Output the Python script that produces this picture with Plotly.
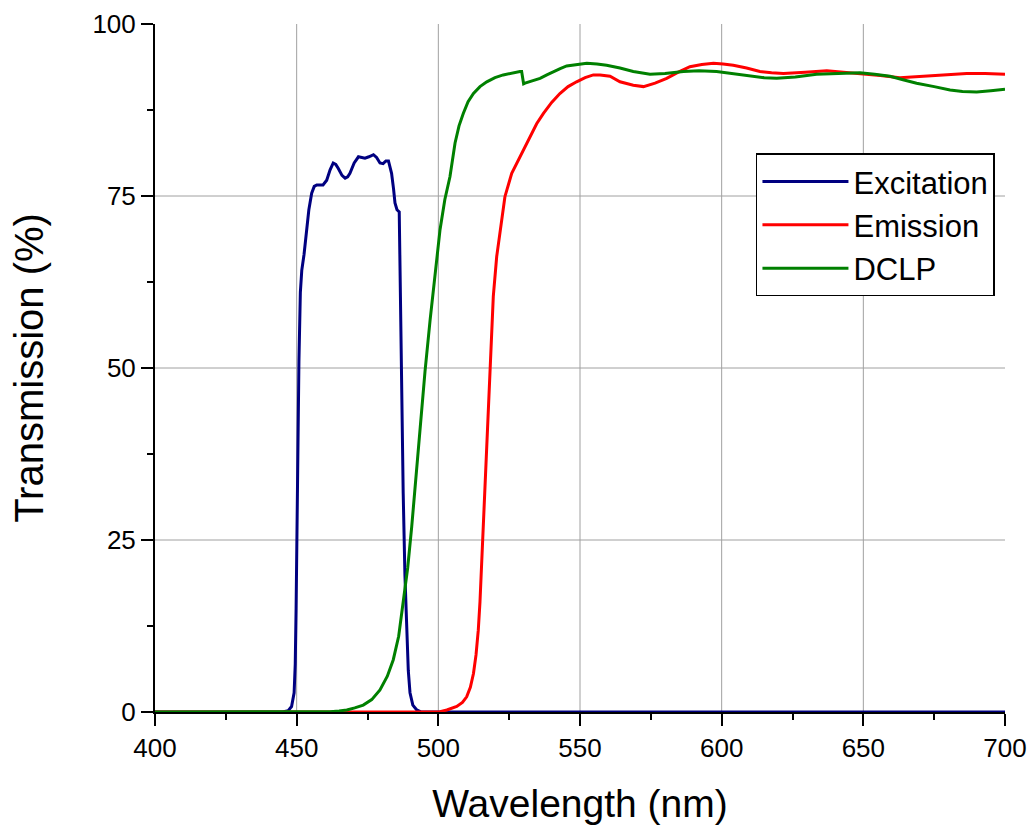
import plotly.graph_objects as go

# ---- data ----
exc_wl = [400, 445, 447, 448.2, 449.1, 449.5, 449.8, 450.2, 450.8, 451.3, 451.8, 452.6,
          453.5, 454.3, 455.3, 456.2, 457.1, 459.3, 460.6, 461.8, 462.9, 463.8, 464.7,
          466.0, 467.1, 468.0, 468.8, 470.3, 471.8, 474.1, 475.5, 477.1, 478.2, 479.4,
          480.5, 481.5, 482.4, 483.5, 484.2, 484.7, 485.4, 486.2, 486.5, 487.0, 487.6,
          488.2, 488.8, 489.4, 490.0, 491.0, 492.4, 494.0, 700]
exc_t = [0, 0, 0.2, 0.8, 2.8, 7, 15, 31.8, 51, 61, 64.2, 66.5,
         69.6, 73, 75.4, 76.4, 76.6, 76.6, 77.3, 78.8, 79.8, 79.6, 79.0,
         78.0, 77.6, 77.8, 78.3, 79.8, 80.7, 80.5, 80.7, 81.0, 80.6, 79.8,
         79.7, 80.1, 80.1, 78.3, 76.0, 74.0, 73.0, 72.7, 64, 48, 31.8,
         20, 12.4, 6, 2.8, 1.0, 0.3, 0, 0]

em_wl = [400, 500.6, 503, 506.5, 508.5, 510, 511.3, 512.4, 513.3, 514.1, 514.7, 515.3,
         516.2, 517.3, 518.2, 519.4, 520.6, 521.8, 523.5, 525.9, 528.8, 532.4, 534.7,
         537.1, 540, 542.9, 545.8, 548.8, 551.8, 554.7, 557.1, 560.6, 564.1, 568.8,
         572.4, 576.5, 580.6, 584.7, 588.8, 593, 597.1, 600.5, 604.1, 608.8, 613.5,
         617.6, 621.8, 629.5, 637.1, 643, 648.8, 656, 662.9, 667.6, 672.4, 679.5,
         686.5, 693, 700]
em_t = [0, 0.05, 0.3, 0.8, 1.4, 2.2, 3.6, 5.6, 8.3, 11.9, 16, 21.6,
        31.3, 41.0, 49.9, 60.4, 66.2, 70.1, 74.9, 78.3, 80.7, 83.6, 85.5,
        87.0, 88.6, 89.9, 90.9, 91.6, 92.2, 92.6, 92.6, 92.4, 91.6, 91.1,
        90.9, 91.4, 92.1, 93.0, 93.8, 94.1, 94.3, 94.2, 94.0, 93.6, 93.1,
        92.9, 92.8, 93.0, 93.2, 93.0, 92.8, 92.5, 92.2, 92.3, 92.4, 92.6,
        92.8, 92.8, 92.7]

dclp_wl = [400, 455, 461.8, 465, 467.7, 470.5, 473.5, 476.5, 479.4, 482, 484.1, 486,
           487.6, 489.2, 490.6, 492, 493.5, 495.3, 497.1, 498.8, 500.6, 502.3, 504.1,
           505.9, 507.3, 508.8, 510.5, 512.4, 514.7, 517.1, 520, 522.9, 526, 528.8,
           529.4, 530.1, 530.6, 533, 535.9, 538.3, 540.6, 543, 545.3, 549, 552.4, 556,
           559.4, 564.1, 568.8, 574.7, 580, 586.5, 592, 598.2, 604, 610, 615, 619.4,
           626, 633.5, 641, 648.8, 654, 659.4, 664, 668.8, 675, 680.6, 685, 690, 695, 700]
dclp_t = [0, 0, 0.05, 0.15, 0.3, 0.6, 1.0, 1.8, 3.2, 5.2, 7.6, 11,
          15.8, 21, 26.9, 34, 41.5, 49.5, 57.0, 63.5, 70.1, 74.5, 77.8,
          82.7, 85.2, 87.0, 88.7, 89.9, 90.9, 91.6, 92.2, 92.6, 92.9, 93.1,
          93.1, 91.3, 91.4, 91.7, 92.1, 92.6, 93.1, 93.5, 93.9, 94.1, 94.3, 94.2,
          94.0, 93.6, 93.1, 92.7, 92.8, 93.1, 93.2, 93.1, 92.8, 92.4, 92.2, 92.1,
          92.3, 92.7, 92.8, 92.9, 92.7, 92.4, 91.9, 91.4, 90.9, 90.4, 90.2, 90.1, 90.3, 90.5]

series = [
    ("Excitation", exc_wl, exc_t, "#000080"),
    ("Emission", em_wl, em_t, "#FF0000"),
    ("DCLP", dclp_wl, dclp_t, "#008000"),
]

x_ticks = [400, 450, 500, 550, 600, 650, 700]
y_ticks = [0, 25, 50, 75, 100]
x_grid = [450, 500, 550, 600, 650]
y_grid = [25, 50, 75]

FONT = "Arial, 'Liberation Sans', sans-serif"
GRID = "#a0a0a0"

fig = go.Figure()
for name, wl, t, col in series:
    fig.add_trace(go.Scatter(x=wl, y=t, mode="lines", name=name,
                             line=dict(color=col, width=3), cliponaxis=False))

# interior grid lines only (none at the plot edges)
for gx in x_grid:
    fig.add_shape(type="line", xref="x", yref="paper", x0=gx, x1=gx, y0=0, y1=1,
                  line=dict(color=GRID, width=1), layer="below")
for gy in y_grid:
    fig.add_shape(type="line", xref="paper", yref="y", x0=0, x1=1, y0=gy, y1=gy,
                  line=dict(color=GRID, width=1), layer="below")

axis_common = dict(
    showline=True, linecolor="black", linewidth=2, mirror=False,
    ticks="outside", ticklen=12, tickwidth=2, tickcolor="black",
    showgrid=False, zeroline=False, automargin=False,
    tickfont=dict(family=FONT, size=26, color="black"),
    layer="below traces",
)

fig.update_layout(
    width=1032, height=825,
    margin=dict(l=155, r=27, t=24, b=113),
    paper_bgcolor="white", plot_bgcolor="white",
    font=dict(family=FONT, color="black"),
    showlegend=True,
    legend=dict(x=0.707, y=0.708, xanchor="left", yanchor="middle",
                bgcolor="white", bordercolor="black", borderwidth=1.5,
                font=dict(family=FONT, size=31, color="black"),
                itemwidth=86, tracegroupgap=0),
    xaxis=dict(range=[400, 700], tickvals=x_ticks, ticktext=[str(v) for v in x_ticks],
               minor=dict(dtick=25, tick0=400, ticks="outside", ticklen=6, tickwidth=2,
                          tickcolor="black", showgrid=False),
               title=dict(text="Wavelength (nm)", font=dict(family=FONT, size=39), standoff=27),
               **axis_common),
    yaxis=dict(range=[0, 100], tickvals=y_ticks, ticktext=[str(v) for v in y_ticks],
               minor=dict(dtick=12.5, tick0=0, ticks="outside", ticklen=6, tickwidth=2,
                          tickcolor="black", showgrid=False),
               title=dict(text="Transmission (%)", font=dict(family=FONT, size=40), standoff=36),
               **axis_common),
)

fig.write_html("out.html")
